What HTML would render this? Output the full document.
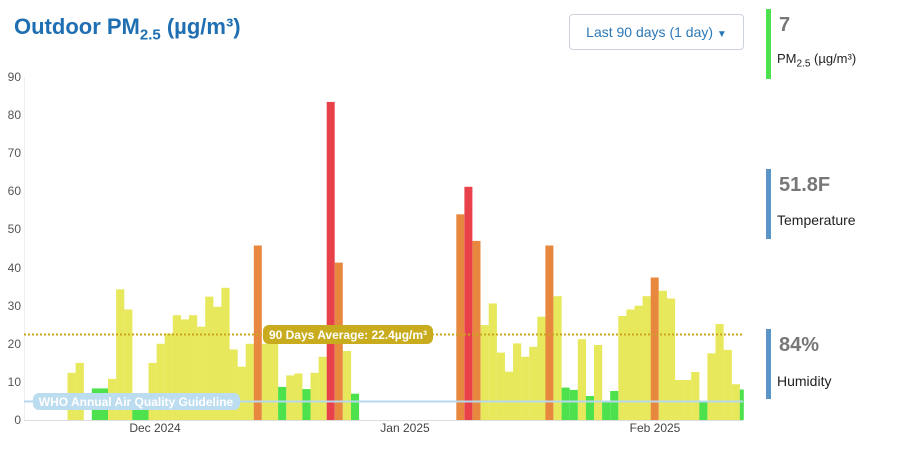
<!DOCTYPE html>
<html><head><meta charset="utf-8"><style>
body{margin:0;width:917px;height:455px;background:#fff;font-family:"Liberation Sans",sans-serif;position:relative;overflow:hidden}
.t{position:absolute;left:14px;top:14px;font-size:22px;font-weight:bold;color:#1f6fb2}
.dd{position:absolute;left:569px;top:14px;width:175px;height:36px;border:1px solid #ccd3da;border-radius:4px;box-sizing:border-box;font-size:14px;color:#2b78b8;text-align:center;line-height:34px}
.bar{position:absolute;left:766px;width:5px;height:70px}
.v{position:absolute;left:779px;font-size:20px;font-weight:bold;color:#777}
.l{position:absolute;left:777px;font-size:14px;color:#222}
</style></head><body>
<div class="t">Outdoor PM<sub style="font-size:15px">2.5</sub> (µg/m³)</div>
<div class="dd">Last 90 days (1 day) <span style="font-size:10px">▼</span></div>
<div class="bar" style="top:9px;background:#4de24d"></div>
<div class="v" style="top:14px">7</div>
<div class="l" style="top:51px;font-size:13px">PM<sub style="font-size:10px">2.5</sub> (µg/m³)</div>
<div class="bar" style="top:169px;background:#5b95c8"></div>
<div class="v" style="top:174px">51.8F</div>
<div class="l" style="top:212px">Temperature</div>
<div class="bar" style="top:329px;background:#5b95c8"></div>
<div class="v" style="top:334px">84%</div>
<div class="l" style="top:373px">Humidity</div>
<svg width="917" height="455" style="position:absolute;left:0;top:0">
<g font-size="12" fill="#555" text-anchor="end" font-family="Liberation Sans">
<text x="21" y="424">0</text><text x="21" y="386">10</text><text x="21" y="348">20</text><text x="21" y="310">30</text><text x="21" y="272">40</text><text x="21" y="233">50</text><text x="21" y="195">60</text><text x="21" y="157">70</text><text x="21" y="119">80</text><text x="21" y="81">90</text>
</g>
<line x1="24.5" y1="77" x2="24.5" y2="420" stroke="#eee"/>
<line x1="24" y1="420.5" x2="743" y2="420.5" stroke="#ddd"/>
<g font-size="12" fill="#444" text-anchor="middle" font-family="Liberation Sans">
<text x="155" y="432">Dec 2024</text><text x="405" y="432">Jan 2025</text><text x="655" y="432">Feb 2025</text>
</g>
<g fill="#e8e85c">
<rect x="67.5" y="372.8" width="8.2" height="47.2"/><rect x="75.6" y="362.9" width="8.2" height="57.1"/>
<rect x="108" y="378.9" width="8.2" height="41.1"/><rect x="116.1" y="289.3" width="8.2" height="130.7"/><rect x="124.2" y="309.5" width="8.2" height="110.5"/>
<rect x="148.5" y="362.9" width="8.2" height="57.1"/><rect x="156.6" y="343.8" width="8.2" height="76.2"/><rect x="164.7" y="333.5" width="8.2" height="86.5"/><rect x="172.8" y="315.2" width="8.2" height="104.8"/><rect x="180.9" y="319.4" width="8.2" height="100.6"/><rect x="189" y="315.2" width="8.2" height="104.8"/><rect x="197.1" y="326.7" width="8.2" height="93.3"/><rect x="205.2" y="296.6" width="8.2" height="123.4"/><rect x="213.3" y="306.8" width="8.2" height="113.2"/><rect x="221.4" y="287.8" width="8.2" height="132.2"/><rect x="229.5" y="349.5" width="8.2" height="70.5"/><rect x="237.6" y="366.7" width="8.2" height="53.3"/><rect x="245.7" y="343.8" width="8.2" height="76.2"/>
<rect x="261.9" y="343.8" width="8.2" height="76.2"/><rect x="270" y="343.8" width="8.2" height="76.2"/>
<rect x="286.2" y="375.4" width="8.2" height="44.6"/><rect x="294.3" y="373.5" width="8.2" height="46.5"/>
<rect x="310.5" y="372.8" width="8.2" height="47.2"/><rect x="318.6" y="356.8" width="8.2" height="63.2"/>
<rect x="342.9" y="351" width="8.2" height="69"/>
<rect x="480.6" y="325.1" width="8.2" height="94.9"/><rect x="488.7" y="303.4" width="8.2" height="116.6"/><rect x="496.8" y="352.6" width="8.2" height="67.4"/><rect x="504.9" y="371.6" width="8.2" height="48.4"/><rect x="513" y="343.4" width="8.2" height="76.6"/><rect x="521.1" y="356.8" width="8.2" height="63.2"/><rect x="529.2" y="346.8" width="8.2" height="73.2"/><rect x="537.3" y="316.7" width="8.2" height="103.3"/>
<rect x="553.5" y="296.2" width="8.2" height="123.8"/>
<rect x="577.8" y="339.2" width="8.2" height="80.8"/><rect x="594" y="345" width="8.2" height="75"/>
<rect x="618.3" y="316" width="8.2" height="104"/><rect x="626.4" y="309.5" width="8.2" height="110.5"/><rect x="634.5" y="305.7" width="8.2" height="114.3"/><rect x="642.6" y="296.2" width="8.2" height="123.8"/>
<rect x="658.8" y="290.8" width="8.2" height="129.2"/><rect x="666.9" y="298.5" width="8.2" height="121.5"/><rect x="675" y="380" width="8.2" height="40"/><rect x="683.1" y="380" width="8.2" height="40"/><rect x="691.2" y="372" width="8.2" height="48"/>
<rect x="707.4" y="353.3" width="8.2" height="66.7"/><rect x="715.5" y="324" width="8.2" height="96"/><rect x="723.6" y="349.9" width="8.2" height="70.1"/><rect x="731.7" y="384.2" width="8.2" height="35.8"/>
</g>
<g fill="#4de24d">
<rect x="91.8" y="388.4" width="16.2" height="31.6"/><rect x="132.3" y="401.7" width="16.2" height="18.3"/>
<rect x="278.1" y="386.9" width="8.1" height="33.1"/><rect x="302.4" y="389.1" width="8.1" height="30.9"/><rect x="351" y="393.7" width="8.1" height="26.3"/>
<rect x="561.6" y="387.6" width="8.1" height="32.4"/><rect x="569.7" y="389.9" width="8.1" height="30.1"/><rect x="585.9" y="396" width="8.1" height="24"/><rect x="602.1" y="401.7" width="8.1" height="18.3"/><rect x="610.2" y="391" width="8.1" height="29"/><rect x="699.3" y="401.7" width="8.1" height="18.3"/><rect x="739.8" y="389.5" width="4" height="30.5"/>
</g>
<g fill="#e8883f">
<rect x="253.8" y="245.5" width="8" height="174.5"/><rect x="334.8" y="262.6" width="8" height="157.4"/><rect x="456.3" y="214.3" width="8" height="205.7"/><rect x="472.5" y="240.9" width="8" height="179.1"/><rect x="545.4" y="245.5" width="8" height="174.5"/><rect x="650.7" y="277.5" width="8" height="142.5"/>
</g>
<g fill="#e8414a">
<rect x="326.7" y="101.9" width="8" height="318.1"/><rect x="464.4" y="186.8" width="8" height="233.2"/>
</g>
<line x1="24" y1="334.5" x2="743" y2="334.5" stroke="#c9a61e" stroke-width="2" stroke-dasharray="2,2"/>
<line x1="24" y1="401.5" x2="743" y2="401.5" stroke="#b6d8ee" stroke-width="2"/>
<rect x="263" y="325" width="170" height="19" rx="6" fill="#c8ac1e"/>
<text x="348" y="339" font-size="12" font-weight="bold" fill="#fff" text-anchor="middle" font-family="Liberation Sans">90 Days Average: 22.4µg/m³</text>
<rect x="33" y="393" width="207" height="17" rx="6" fill="#bcdcf0"/>
<text x="136" y="406" font-size="12" font-weight="bold" fill="#fff" text-anchor="middle" font-family="Liberation Sans">WHO Annual Air Quality Guideline</text>
</svg>
</body></html>
